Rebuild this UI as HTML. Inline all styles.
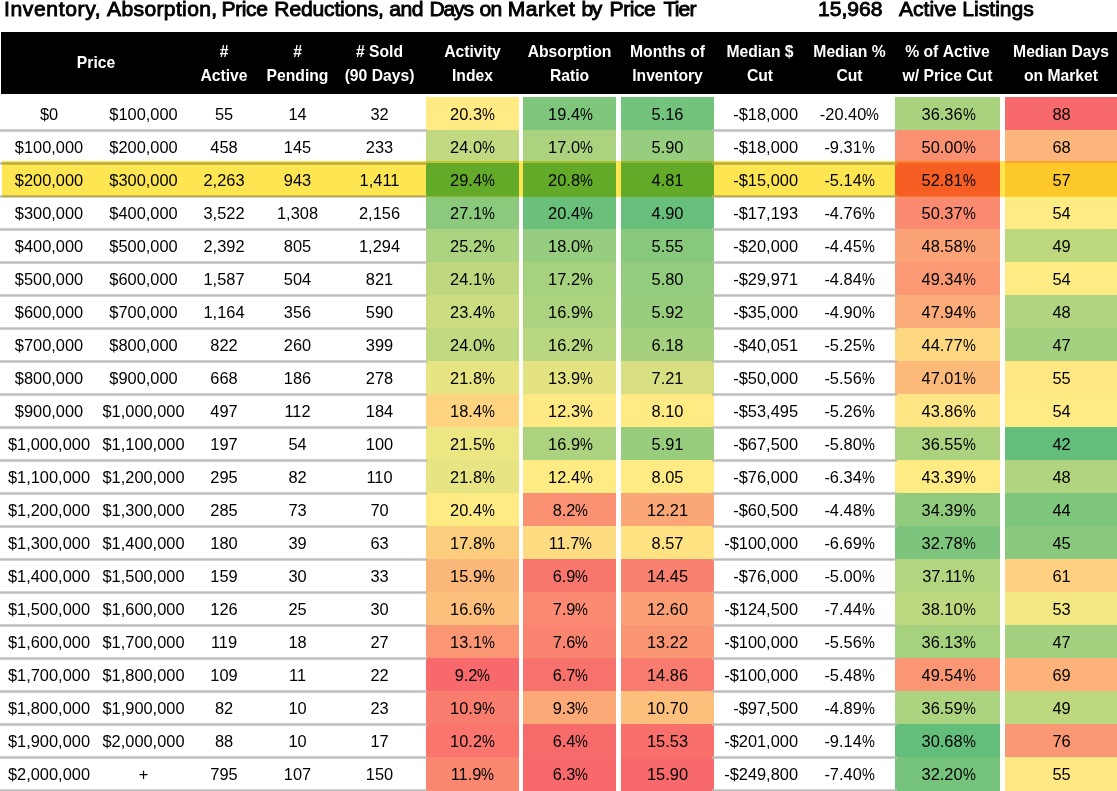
<!DOCTYPE html>
<html lang="en"><head><meta charset="utf-8"><title>Inventory by Price Tier</title>
<style>
html,body{margin:0;padding:0;background:#fff;}
body{width:1117px;height:791px;overflow:hidden;position:relative;font-family:"Liberation Sans",sans-serif;color:#000;}
.title span{position:absolute;top:0;}
.title{position:absolute;left:0;width:700px;height:24px;top:-3px;font-weight:400;-webkit-text-stroke:0.9px #000;font-size:21.1px;line-height:24px;white-space:nowrap;margin:0;}
.cnt{position:absolute;top:-3px;font-weight:400;-webkit-text-stroke:0.9px #000;font-size:21.1px;line-height:24px;white-space:nowrap;}
table{position:absolute;left:0;top:32px;width:1117px;border-collapse:separate;border-spacing:0;table-layout:fixed;}
th{background:#000;color:#fff;font-weight:700;font-size:15.7px;line-height:24px;height:62px;padding:2px 0 0 0;text-align:center;vertical-align:middle;box-sizing:border-box;white-space:nowrap;overflow:visible;}
th.first{border-left:1px solid #fff;padding-top:0;}
tr.gap td{height:3px;padding:0;border:0;}
td{height:33px;vertical-align:top;box-sizing:border-box;padding:2px 0 0 0;text-align:center;font-size:16.4px;line-height:31px;white-space:nowrap;overflow:visible;}
td.r{text-align:right;padding-right:8px;}
td.p{padding-left:2px;}
tr.last td{height:34px;}
.pc{display:inline-block;width:12.9px;transform:scaleX(.885);transform-origin:0 50%;text-align:left;}
.lines{position:absolute;left:0;top:0;pointer-events:none;}
.lines rect{fill:#bcbcbc;}
.hl{position:absolute;left:2px;top:161px;width:1115px;height:36px;background:#fee552;mix-blend-mode:multiply;pointer-events:none;}
</style></head><body>
<h1 class="title"><span style="left:4.00px;letter-spacing:0.62px">Inventory,</span> <span style="left:107.04px;letter-spacing:0.34px">Absorption,</span> <span style="left:221.50px;letter-spacing:-0.40px">Price</span> <span style="left:274.36px;letter-spacing:-0.19px">Reductions,</span> <span style="left:389.28px;letter-spacing:-0.48px">and</span> <span style="left:429.50px;letter-spacing:-1.20px">Days</span> <span style="left:479.52px;letter-spacing:-0.64px">on</span> <span style="left:507.74px;letter-spacing:0.51px">Market</span> <span style="left:581.50px;letter-spacing:-1.50px">by</span> <span style="left:609.50px;letter-spacing:-0.44px">Price</span> <span style="left:663.54px;letter-spacing:-0.85px">Tier</span></h1>
<div class="cnt" style="left:818px;">15,968</div><div class="cnt" style="left:899px;">Active Listings</div>
<table><colgroup><col style="width:96px"><col style="width:95px"><col style="width:66px"><col style="width:81px"><col style="width:83px"><col style="width:5px"><col style="width:93px"><col style="width:4px"><col style="width:93px"><col style="width:5px"><col style="width:93px"><col style="width:92px"><col style="width:87px"><col style="width:2px"><col style="width:105px"><col style="width:5px"><col style="width:112px"></colgroup>
<thead><tr>
<th class="first" colspan="2">Price</th>
<th>#<br>Active</th>
<th>#<br>Pending</th>
<th>#&nbsp;Sold<br>(90&nbsp;Days)</th>
<th></th>
<th>Activity<br>Index</th>
<th></th>
<th>Absorption<br>Ratio</th>
<th></th>
<th>Months&nbsp;of<br>Inventory</th>
<th>Median&nbsp;$<br>Cut</th>
<th>Median&nbsp;%<br>Cut</th>
<th></th>
<th>%&nbsp;of&nbsp;Active<br>w/&nbsp;Price&nbsp;Cut</th>
<th></th>
<th>Median&nbsp;Days<br>on&nbsp;Market</th>
</tr></thead><tbody>
<tr class="gap"><td colspan="17"></td></tr>
<tr>
<td class="p">$0</td>
<td>$100,000</td>
<td>55</td>
<td>14</td>
<td>32</td>
<td></td>
<td style="background:#ffea84">20.3<span class="pc">%</span></td>
<td></td>
<td style="background:#7dc67c;padding-left:2px">19.4<span class="pc">%</span></td>
<td></td>
<td style="background:#74c37c">5.16</td>
<td class="r">-$18,000</td>
<td>-20.40<span class="pc">%</span></td>
<td></td>
<td style="background:#a9d27f;padding-left:2px">36.36<span class="pc">%</span></td>
<td></td>
<td style="background:#f8696b;padding-left:1px">88</td>
</tr>
<tr>
<td class="p">$100,000</td>
<td>$200,000</td>
<td>458</td>
<td>145</td>
<td>233</td>
<td></td>
<td style="background:#c1d980">24.0<span class="pc">%</span></td>
<td></td>
<td style="background:#aad27f;padding-left:2px">17.0<span class="pc">%</span></td>
<td></td>
<td style="background:#97cd7e">5.90</td>
<td class="r">-$18,000</td>
<td>-9.31<span class="pc">%</span></td>
<td></td>
<td style="background:#fa9072;padding-left:2px">50.00<span class="pc">%</span></td>
<td></td>
<td style="background:#fcb57a;padding-left:1px">68</td>
</tr>
<tr>
<td class="p">$200,000</td>
<td>$300,000</td>
<td>2,263</td>
<td>943</td>
<td>1,411</td>
<td></td>
<td style="background:#63be7b">29.4<span class="pc">%</span></td>
<td></td>
<td style="background:#63be7b;padding-left:2px">20.8<span class="pc">%</span></td>
<td></td>
<td style="background:#63be7b">4.81</td>
<td class="r">-$15,000</td>
<td>-5.14<span class="pc">%</span></td>
<td></td>
<td style="background:#f8696b;padding-left:2px">52.81<span class="pc">%</span></td>
<td></td>
<td style="background:#fee082;padding-left:1px">57</td>
</tr>
<tr>
<td class="p">$300,000</td>
<td>$400,000</td>
<td>3,522</td>
<td>1,308</td>
<td>2,156</td>
<td></td>
<td style="background:#8bca7d">27.1<span class="pc">%</span></td>
<td></td>
<td style="background:#6ac07b;padding-left:2px">20.4<span class="pc">%</span></td>
<td></td>
<td style="background:#67bf7b">4.90</td>
<td class="r">-$17,193</td>
<td>-4.76<span class="pc">%</span></td>
<td></td>
<td style="background:#fa8b71;padding-left:2px">50.37<span class="pc">%</span></td>
<td></td>
<td style="background:#ffeb84;padding-left:1px">54</td>
</tr>
<tr>
<td class="p">$400,000</td>
<td>$500,000</td>
<td>2,392</td>
<td>805</td>
<td>1,294</td>
<td></td>
<td style="background:#acd37f">25.2<span class="pc">%</span></td>
<td></td>
<td style="background:#97cd7e;padding-left:2px">18.0<span class="pc">%</span></td>
<td></td>
<td style="background:#87c87d">5.55</td>
<td class="r">-$20,000</td>
<td>-4.45<span class="pc">%</span></td>
<td></td>
<td style="background:#fba376;padding-left:2px">48.58<span class="pc">%</span></td>
<td></td>
<td style="background:#bed880;padding-left:1px">49</td>
</tr>
<tr>
<td class="p">$500,000</td>
<td>$600,000</td>
<td>1,587</td>
<td>504</td>
<td>821</td>
<td></td>
<td style="background:#bfd880">24.1<span class="pc">%</span></td>
<td></td>
<td style="background:#a6d17f;padding-left:2px">17.2<span class="pc">%</span></td>
<td></td>
<td style="background:#93cc7e">5.80</td>
<td class="r">-$29,971</td>
<td>-4.84<span class="pc">%</span></td>
<td></td>
<td style="background:#fb9974;padding-left:2px">49.34<span class="pc">%</span></td>
<td></td>
<td style="background:#ffeb84;padding-left:1px">54</td>
</tr>
<tr>
<td class="p">$600,000</td>
<td>$700,000</td>
<td>1,164</td>
<td>356</td>
<td>590</td>
<td></td>
<td style="background:#cbdc81">23.4<span class="pc">%</span></td>
<td></td>
<td style="background:#abd37f;padding-left:2px">16.9<span class="pc">%</span></td>
<td></td>
<td style="background:#98cd7e">5.92</td>
<td class="r">-$35,000</td>
<td>-4.90<span class="pc">%</span></td>
<td></td>
<td style="background:#fcac78;padding-left:2px">47.94<span class="pc">%</span></td>
<td></td>
<td style="background:#b1d480;padding-left:1px">48</td>
</tr>
<tr>
<td class="p">$700,000</td>
<td>$800,000</td>
<td>822</td>
<td>260</td>
<td>399</td>
<td></td>
<td style="background:#c1d980">24.0<span class="pc">%</span></td>
<td></td>
<td style="background:#b8d780;padding-left:2px">16.2<span class="pc">%</span></td>
<td></td>
<td style="background:#a5d17f">6.18</td>
<td class="r">-$40,051</td>
<td>-5.25<span class="pc">%</span></td>
<td></td>
<td style="background:#fed880;padding-left:2px">44.77<span class="pc">%</span></td>
<td></td>
<td style="background:#a4d17f;padding-left:1px">47</td>
</tr>
<tr>
<td class="p">$800,000</td>
<td>$900,000</td>
<td>668</td>
<td>186</td>
<td>278</td>
<td></td>
<td style="background:#e7e483">21.8<span class="pc">%</span></td>
<td></td>
<td style="background:#e3e382;padding-left:2px">13.9<span class="pc">%</span></td>
<td></td>
<td style="background:#d7df82">7.21</td>
<td class="r">-$50,000</td>
<td>-5.56<span class="pc">%</span></td>
<td></td>
<td style="background:#fcb97a;padding-left:2px">47.01<span class="pc">%</span></td>
<td></td>
<td style="background:#ffe783;padding-left:1px">55</td>
</tr>
<tr>
<td class="p">$900,000</td>
<td>$1,000,000</td>
<td>497</td>
<td>112</td>
<td>184</td>
<td></td>
<td style="background:#fed480">18.4<span class="pc">%</span></td>
<td></td>
<td style="background:#ffe984;padding-left:2px">12.3<span class="pc">%</span></td>
<td></td>
<td style="background:#ffea84">8.10</td>
<td class="r">-$53,495</td>
<td>-5.26<span class="pc">%</span></td>
<td></td>
<td style="background:#ffe583;padding-left:2px">43.86<span class="pc">%</span></td>
<td></td>
<td style="background:#ffeb84;padding-left:1px">54</td>
</tr>
<tr>
<td class="p">$1,000,000</td>
<td>$1,100,000</td>
<td>197</td>
<td>54</td>
<td>100</td>
<td></td>
<td style="background:#ece683">21.5<span class="pc">%</span></td>
<td></td>
<td style="background:#abd37f;padding-left:2px">16.9<span class="pc">%</span></td>
<td></td>
<td style="background:#98cd7e">5.91</td>
<td class="r">-$67,500</td>
<td>-5.80<span class="pc">%</span></td>
<td></td>
<td style="background:#abd37f;padding-left:2px">36.55<span class="pc">%</span></td>
<td></td>
<td style="background:#63be7b;padding-left:1px">42</td>
</tr>
<tr>
<td class="p">$1,100,000</td>
<td>$1,200,000</td>
<td>295</td>
<td>82</td>
<td>110</td>
<td></td>
<td style="background:#e7e483">21.8<span class="pc">%</span></td>
<td></td>
<td style="background:#ffeb84;padding-left:2px">12.4<span class="pc">%</span></td>
<td></td>
<td style="background:#ffeb84">8.05</td>
<td class="r">-$76,000</td>
<td>-6.34<span class="pc">%</span></td>
<td></td>
<td style="background:#ffeb84;padding-left:2px">43.39<span class="pc">%</span></td>
<td></td>
<td style="background:#b1d480;padding-left:1px">48</td>
</tr>
<tr>
<td class="p">$1,200,000</td>
<td>$1,300,000</td>
<td>285</td>
<td>73</td>
<td>70</td>
<td></td>
<td style="background:#ffeb84">20.4<span class="pc">%</span></td>
<td></td>
<td style="background:#fa9173;padding-left:2px">8.2<span class="pc">%</span></td>
<td></td>
<td style="background:#fba677">12.21</td>
<td class="r">-$60,500</td>
<td>-4.48<span class="pc">%</span></td>
<td></td>
<td style="background:#91cb7e;padding-left:2px">34.39<span class="pc">%</span></td>
<td></td>
<td style="background:#7dc67c;padding-left:1px">44</td>
</tr>
<tr>
<td class="p">$1,300,000</td>
<td>$1,400,000</td>
<td>180</td>
<td>39</td>
<td>63</td>
<td></td>
<td style="background:#fdcd7e">17.8<span class="pc">%</span></td>
<td></td>
<td style="background:#fedc81;padding-left:2px">11.7<span class="pc">%</span></td>
<td></td>
<td style="background:#ffe282">8.57</td>
<td class="r">-$100,000</td>
<td>-6.69<span class="pc">%</span></td>
<td></td>
<td style="background:#7dc57c;padding-left:2px">32.78<span class="pc">%</span></td>
<td></td>
<td style="background:#8ac97d;padding-left:1px">45</td>
</tr>
<tr>
<td class="p">$1,400,000</td>
<td>$1,500,000</td>
<td>159</td>
<td>30</td>
<td>33</td>
<td></td>
<td style="background:#fcb77a">15.9<span class="pc">%</span></td>
<td></td>
<td style="background:#f9766d;padding-left:2px">6.9<span class="pc">%</span></td>
<td></td>
<td style="background:#f98170">14.45</td>
<td class="r">-$76,000</td>
<td>-5.00<span class="pc">%</span></td>
<td></td>
<td style="background:#b2d580;padding-left:2px">37.11<span class="pc">%</span></td>
<td></td>
<td style="background:#fed07f;padding-left:1px">61</td>
</tr>
<tr>
<td class="p">$1,500,000</td>
<td>$1,600,000</td>
<td>126</td>
<td>25</td>
<td>30</td>
<td></td>
<td style="background:#fdbf7c">16.6<span class="pc">%</span></td>
<td></td>
<td style="background:#fa8b72;padding-left:2px">7.9<span class="pc">%</span></td>
<td></td>
<td style="background:#fba076">12.60</td>
<td class="r">-$124,500</td>
<td>-7.44<span class="pc">%</span></td>
<td></td>
<td style="background:#bed880;padding-left:2px">38.10<span class="pc">%</span></td>
<td></td>
<td style="background:#f2e783;padding-left:1px">53</td>
</tr>
<tr>
<td class="p">$1,600,000</td>
<td>$1,700,000</td>
<td>119</td>
<td>18</td>
<td>27</td>
<td></td>
<td style="background:#fa9674">13.1<span class="pc">%</span></td>
<td></td>
<td style="background:#f98570;padding-left:2px">7.6<span class="pc">%</span></td>
<td></td>
<td style="background:#fa9574">13.22</td>
<td class="r">-$100,000</td>
<td>-5.56<span class="pc">%</span></td>
<td></td>
<td style="background:#a6d17f;padding-left:2px">36.13<span class="pc">%</span></td>
<td></td>
<td style="background:#a4d17f;padding-left:1px">47</td>
</tr>
<tr>
<td class="p">$1,700,000</td>
<td>$1,800,000</td>
<td>109</td>
<td>11</td>
<td>22</td>
<td></td>
<td style="background:#f8696b">9.2<span class="pc">%</span></td>
<td></td>
<td style="background:#f8726d;padding-left:2px">6.7<span class="pc">%</span></td>
<td></td>
<td style="background:#f97a6e">14.86</td>
<td class="r">-$100,000</td>
<td>-5.48<span class="pc">%</span></td>
<td></td>
<td style="background:#fa9674;padding-left:2px">49.54<span class="pc">%</span></td>
<td></td>
<td style="background:#fcb279;padding-left:1px">69</td>
</tr>
<tr>
<td class="p">$1,800,000</td>
<td>$1,900,000</td>
<td>82</td>
<td>10</td>
<td>23</td>
<td></td>
<td style="background:#f97d6f">10.9<span class="pc">%</span></td>
<td></td>
<td style="background:#fba977;padding-left:2px">9.3<span class="pc">%</span></td>
<td></td>
<td style="background:#fdbf7c">10.70</td>
<td class="r">-$97,500</td>
<td>-4.89<span class="pc">%</span></td>
<td></td>
<td style="background:#acd37f;padding-left:2px">36.59<span class="pc">%</span></td>
<td></td>
<td style="background:#bed880;padding-left:1px">49</td>
</tr>
<tr>
<td class="p">$1,900,000</td>
<td>$2,000,000</td>
<td>88</td>
<td>10</td>
<td>17</td>
<td></td>
<td style="background:#f9756d">10.2<span class="pc">%</span></td>
<td></td>
<td style="background:#f86b6b;padding-left:2px">6.4<span class="pc">%</span></td>
<td></td>
<td style="background:#f86f6c">15.53</td>
<td class="r">-$201,000</td>
<td>-9.14<span class="pc">%</span></td>
<td></td>
<td style="background:#63be7b;padding-left:2px">30.68<span class="pc">%</span></td>
<td></td>
<td style="background:#fa9774;padding-left:1px">76</td>
</tr>
<tr class="last">
<td class="p">$2,000,000</td>
<td>+</td>
<td>795</td>
<td>107</td>
<td>150</td>
<td></td>
<td style="background:#fa8871">11.9<span class="pc">%</span></td>
<td></td>
<td style="background:#f8696b;padding-left:2px">6.3<span class="pc">%</span></td>
<td></td>
<td style="background:#f8696b">15.90</td>
<td class="r">-$249,800</td>
<td>-7.40<span class="pc">%</span></td>
<td></td>
<td style="background:#76c37c;padding-left:2px">32.20<span class="pc">%</span></td>
<td></td>
<td style="background:#ffe783;padding-left:1px">55</td>
</tr>
</tbody></table>
<svg class="lines" width="1117" height="791" viewBox="0 0 1117 791" aria-hidden="true"><rect x="0" y="129.3" width="427" height="2.4"/><rect x="712" y="129.3" width="185" height="2.4"/><rect x="0" y="162.3" width="427" height="2.4"/><rect x="712" y="162.3" width="185" height="2.4"/><rect x="0" y="195.3" width="427" height="2.4"/><rect x="712" y="195.3" width="185" height="2.4"/><rect x="0" y="228.3" width="427" height="2.4"/><rect x="712" y="228.3" width="185" height="2.4"/><rect x="0" y="261.3" width="427" height="2.4"/><rect x="712" y="261.3" width="185" height="2.4"/><rect x="0" y="294.3" width="427" height="2.4"/><rect x="712" y="294.3" width="185" height="2.4"/><rect x="0" y="327.3" width="427" height="2.4"/><rect x="712" y="327.3" width="185" height="2.4"/><rect x="0" y="360.3" width="427" height="2.4"/><rect x="712" y="360.3" width="185" height="2.4"/><rect x="0" y="393.3" width="427" height="2.4"/><rect x="712" y="393.3" width="185" height="2.4"/><rect x="0" y="426.3" width="427" height="2.4"/><rect x="712" y="426.3" width="185" height="2.4"/><rect x="0" y="459.3" width="427" height="2.4"/><rect x="712" y="459.3" width="185" height="2.4"/><rect x="0" y="492.3" width="427" height="2.4"/><rect x="712" y="492.3" width="185" height="2.4"/><rect x="0" y="525.3" width="427" height="2.4"/><rect x="712" y="525.3" width="185" height="2.4"/><rect x="0" y="558.3" width="427" height="2.4"/><rect x="712" y="558.3" width="185" height="2.4"/><rect x="0" y="591.3" width="427" height="2.4"/><rect x="712" y="591.3" width="185" height="2.4"/><rect x="0" y="624.3" width="427" height="2.4"/><rect x="712" y="624.3" width="185" height="2.4"/><rect x="0" y="657.3" width="427" height="2.4"/><rect x="712" y="657.3" width="185" height="2.4"/><rect x="0" y="690.3" width="427" height="2.4"/><rect x="712" y="690.3" width="185" height="2.4"/><rect x="0" y="723.3" width="427" height="2.4"/><rect x="712" y="723.3" width="185" height="2.4"/><rect x="0" y="756.3" width="427" height="2.4"/><rect x="712" y="756.3" width="185" height="2.4"/><rect x="0" y="789.3" width="427" height="2.4"/><rect x="712" y="789.3" width="185" height="2.4"/></svg>
<div class="hl"></div>
</body></html>
